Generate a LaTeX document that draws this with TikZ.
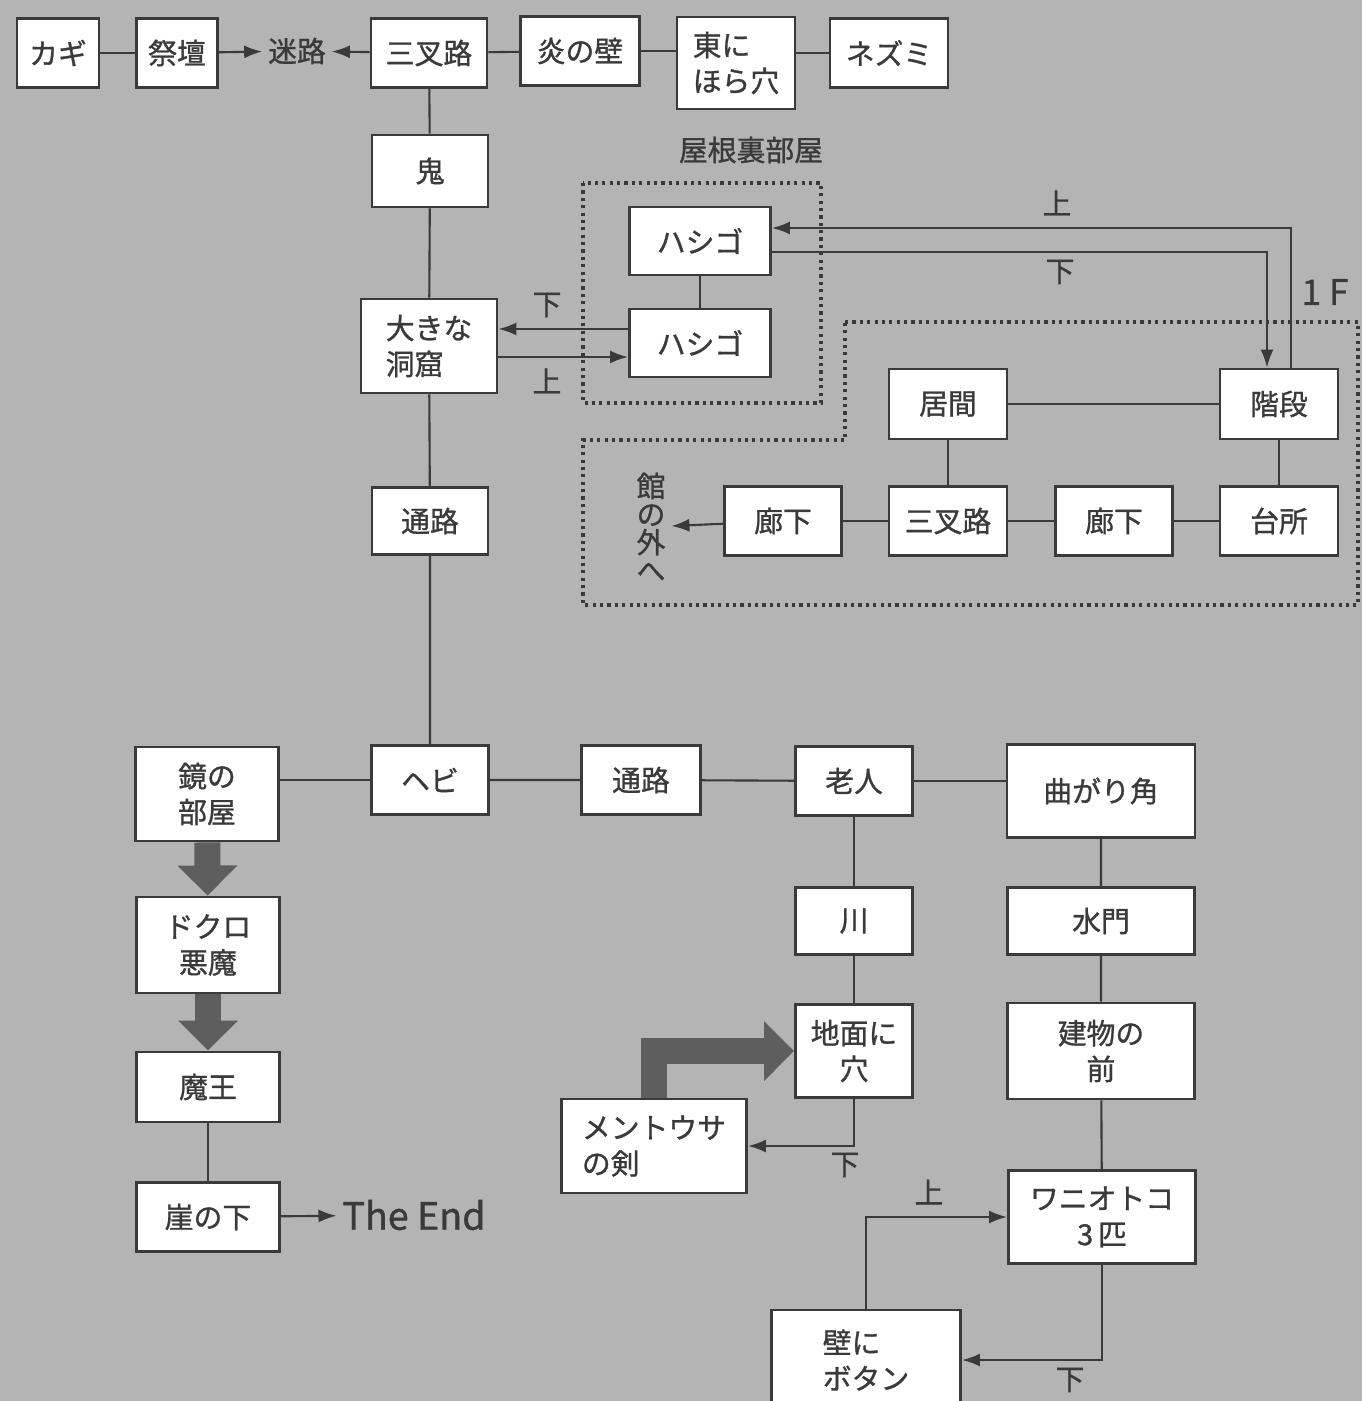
\documentclass[tikz,border=0pt]{standalone}
\usepackage{fontspec}
\setmainfont{Noto Sans CJK JP}[FakeBold=1]
\usetikzlibrary{arrows.meta}
\definecolor{paper}{RGB}{180,180,180}
\definecolor{ink}{RGB}{58,58,58}
\definecolor{heavy}{RGB}{94,94,94}
\newcommand\mapfont{\fontsize{8.2}{10.2}\selectfont}
\tikzset{
    room/.style={rectangle, draw=ink, line width=0.8pt, fill=white, text=ink, font=\mapfont, align=center, inner sep=0pt, minimum height=0.69cm},
    tallroom/.style={room, minimum height=0.94cm},
    note/.style={text=ink, font=\mapfont, inner sep=1.5pt},
    road/.style={draw=ink, line width=0.6pt},
    arr/.style={road, -{Latex[length=1.8mm, width=1.3mm]}},
    bigarr/.style={draw=heavy, line width=2.6mm, line join=miter, -{Triangle[length=3mm, width=5.8mm]}},
    zone/.style={draw=ink, line width=0.9pt, dash pattern=on 0.9pt off 1.2pt}
}

\begin{document}
\begin{tikzpicture}[x=0.01cm, y=-0.01cm]
    \useasboundingbox (0,0) rectangle (1362,1401);
    \clip (0,0) rectangle (1362,1401);
    \fill[paper] (0,0) rectangle (1362,1401);

    \node[room, minimum width=0.82cm] (key) at (58,53) {カギ};
    \node[room, minimum width=0.81cm] (altar) at (177,53) {祭壇};
    \node[note] (maze) at (297,51) {迷路};
    \node[room, minimum width=1.16cm] (fork) at (429,53) {三叉路};
    \node[room, minimum width=1.19cm] (flame) at (580,51) {炎の壁};
    \node[room, minimum width=1.18cm, minimum height=0.92cm, align=left] (eastcave) at (736,63) {東に\\ほら穴};
    \node[room, minimum width=1.18cm] (rat) at (889,53) {ネズミ};

    \node[room, minimum width=1.16cm, minimum height=0.72cm] (oni) at (430,171) {鬼};
    \node[tallroom, minimum width=1.36cm, align=left] (bigcave) at (429,346) {大きな\\洞窟};
    \node[room, minimum width=1.16cm, minimum height=0.67cm] (path1) at (430,521) {通路};
    \node[room, minimum width=1.17cm] (snake) at (430,780) {ヘビ};

    \node[note] (attic) at (751,150) {屋根裏部屋};
    \draw[zone] (583,183) rectangle (821,403);
    \node[room, minimum width=1.41cm, minimum height=0.68cm] (ladderup) at (700,241) {ハシゴ};
    \node[room, minimum width=1.41cm, minimum height=0.68cm] (ladderdn) at (700,343) {ハシゴ};

    \node[note, font=\fontsize{10}{12}\selectfont] (floor) at (1325,292) {1 F};
    \draw[zone] (845,322) -- (1358,322) -- (1358,605) -- (583,605) -- (583,440) -- (845,440) -- cycle;
    \node[room, minimum width=1.18cm, minimum height=0.70cm] (living) at (948,404) {居間};
    \node[room, minimum width=1.18cm, minimum height=0.70cm] (stairs) at (1279,404) {階段};
    \node[room, minimum width=1.17cm] (hallA) at (783,521) {廊下};
    \node[room, minimum width=1.18cm] (fork2) at (948,521) {三叉路};
    \node[room, minimum width=1.17cm] (hallB) at (1114,521) {廊下};
    \node[room, minimum width=1.18cm] (kitchen) at (1279,521) {台所};
    \node[note, align=center, font=\fontsize{8.2}{8}\selectfont] (outside) at (651,527) {館\\の\\外\\へ};

    \node[tallroom, minimum width=1.43cm] (mirror) at (207,794) {鏡の\\部屋};
    \node[room, minimum width=1.19cm] (path2) at (641,780) {通路};
    \node[room, minimum width=1.17cm] (elder) at (854,781) {老人};
    \node[tallroom, minimum width=1.88cm, minimum height=0.93cm] (corner) at (1101,791) {曲がり角};
    \node[tallroom, minimum width=1.43cm, minimum height=0.96cm] (skull) at (208,945) {ドクロ\\悪魔};
    \node[room, minimum width=1.43cm, minimum height=0.70cm] (lord) at (208,1087) {魔王};
    \node[room, minimum width=1.43cm] (cliff) at (208,1217) {崖の下};
    \node[note, font=\fontsize{10.7}{12}\selectfont] (theend) at (414,1215) {The End};
    \node[room, minimum width=1.17cm, minimum height=0.67cm] (river) at (854,921) {川};
    \node[tallroom, minimum width=1.17cm, minimum height=0.93cm] (hole) at (854,1051) {地面に\\穴};
    \node[tallroom, minimum width=1.85cm, align=left] (sword) at (654,1146) {メントウサ\\の剣};
    \node[room, minimum width=1.87cm, minimum height=0.67cm] (gate) at (1101,921) {水門};
    \node[tallroom, minimum width=1.87cm, minimum height=0.96cm] (front) at (1101,1051) {建物の\\前};
    \node[tallroom, minimum width=1.87cm, minimum height=0.93cm] (wani) at (1102,1217) {ワニオトコ\\3\,匹};
    \node[tallroom, minimum width=1.89cm, minimum height=1.0cm, align=left] (button) at (866,1360) {壁に\\ボタン};

    \node[note] (dnA) at (547,305) {下};
    \node[note] (upA) at (547,381) {上};
    \node[note] (upB) at (1057,203) {上};
    \node[note] (dnB) at (1060,272) {下};
    \node[note] (dnC) at (845,1165) {下};
    \node[note] (upC) at (929,1192) {上};
    \node[note] (dnD) at (1070,1380) {下};

    \coordinate (ladderin) at ([yshift=0.14cm]ladderdn.west);
    \coordinate (ladderout) at ([yshift=-0.14cm]ladderdn.west);

    \draw[road] (key) -- (altar);
    \draw[arr] (altar) -- (maze);
    \draw[arr] (fork) -- (maze);
    \draw[road] (fork) -- (flame);
    \draw[road] (flame.east) -- (flame.east -| eastcave.west);
    \draw[road] (rat.west) -- (rat.west -| eastcave.east);
    \draw[road] (fork) -- (oni) -- (bigcave) -- (path1) -- (snake);
    \draw[road] (ladderup) -- (ladderdn);
    \draw[arr] (ladderin) -- (ladderin -| bigcave.east);
    \draw[arr] (ladderout -| bigcave.east) -- (ladderout);
    \draw[arr] ([xshift=0.12cm]stairs.north) |- ([yshift=0.13cm]ladderup.east);
    \draw[arr] ([yshift=-0.11cm]ladderup.east) -| ([xshift=-0.12cm]stairs.north);
    \draw[road] (living) -- (stairs);
    \draw[road] (living) -- (fork2);
    \draw[road] (stairs) -- (kitchen);
    \draw[road] (hallA) -- (fork2) -- (hallB) -- (kitchen);
    \draw[arr] (hallA) -- (outside);

    \draw[road] (snake.west) -- (snake.west -| mirror.east);
    \draw[road] (snake) -- (path2) -- (elder);
    \draw[road] (elder.east) -- (elder.east -| corner.west);
    \draw[bigarr] (mirror) -- (skull);
    \draw[bigarr] (skull) -- (lord);
    \draw[road] (lord) -- (cliff);
    \draw[arr] (cliff) -- (theend);
    \draw[road] (elder) -- (river) -- (hole);
    \draw[bigarr] (sword.north) |- (hole.west);
    \draw[arr] (hole.south) |- (sword.east);
    \draw[road] (corner) -- (gate) -- (front) -- (wani);
    \draw[arr] (button.north) |- (wani.west);
    \draw[arr] (wani.south) |- (button.east);
\end{tikzpicture}
\end{document}
